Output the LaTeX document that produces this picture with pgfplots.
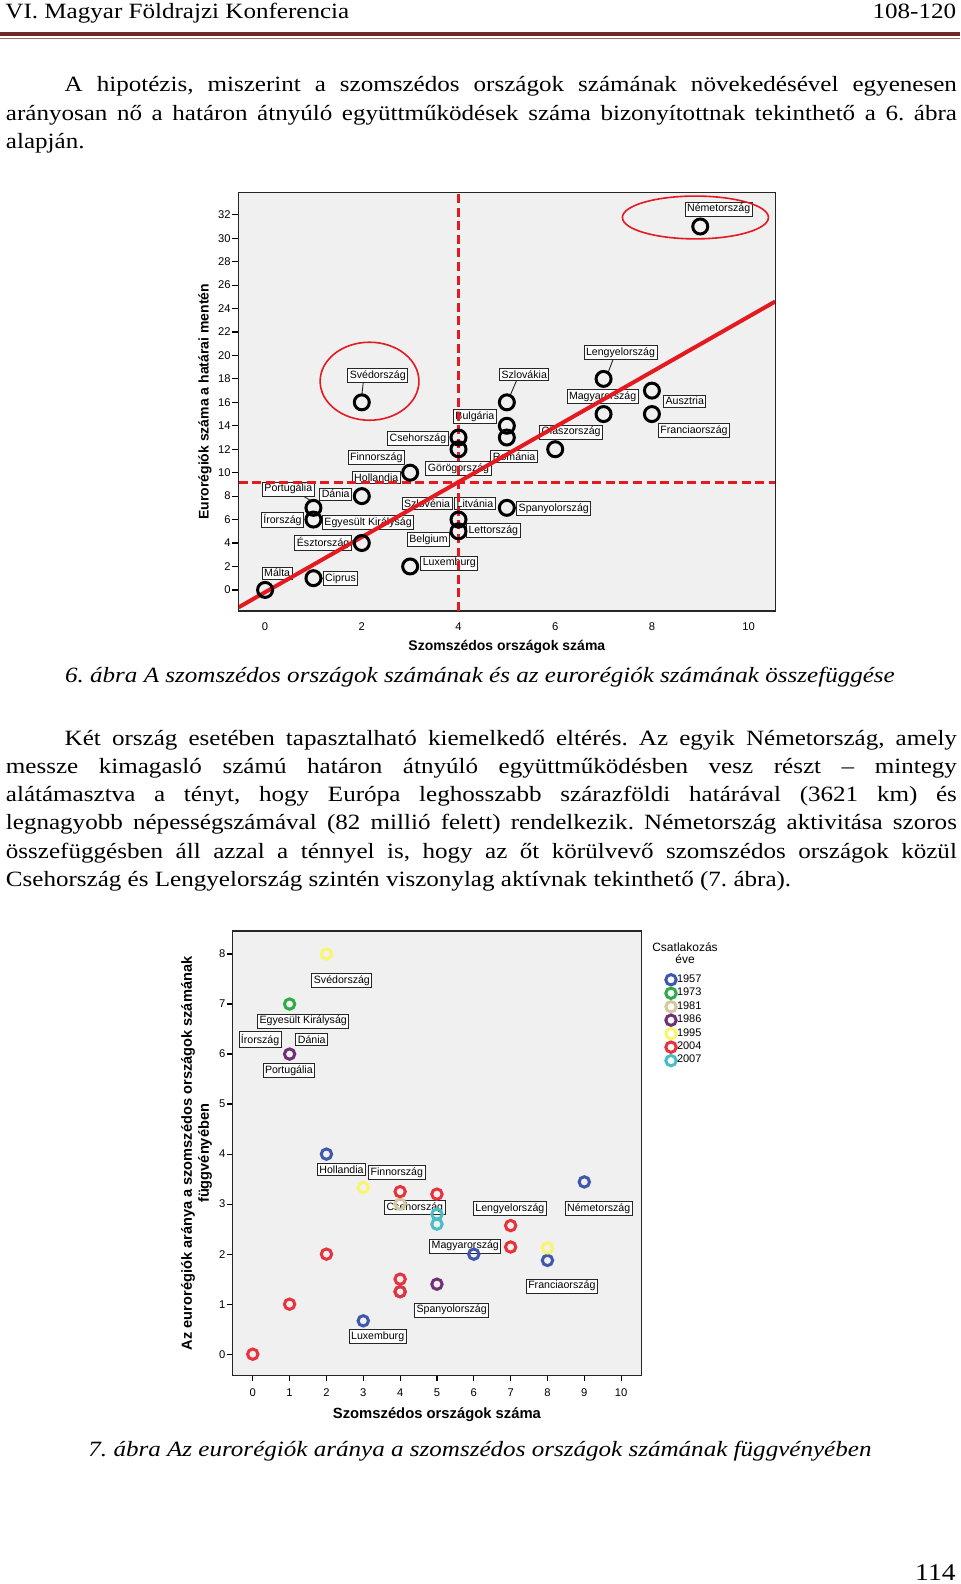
\documentclass[border=0pt]{standalone}
\usepackage{fontspec}
\setmainfont{Liberation Serif}[FakeStretch=1.15]
\setsansfont{Liberation Sans}
\usepackage{pgfplots}
\usepackage{pgfplotstable}
\pgfplotsset{compat=1.18}
\frenchspacing

\definecolor{chartbg}{RGB}{240,240,240}
\definecolor{regred}{RGB}{228,26,32}
\definecolor{maroon}{RGB}{110,40,40}
\definecolor{c1957}{RGB}{62,88,171}
\definecolor{c1973}{RGB}{46,172,72}
\definecolor{c1981}{RGB}{212,200,160}
\definecolor{c1986}{RGB}{112,48,120}
\definecolor{c1995}{RGB}{248,245,110}
\definecolor{c2004}{RGB}{232,50,60}
\definecolor{c2007}{RGB}{72,190,196}

% szomszedos orszagok szama, euroregiok szama
\pgfplotstableread{
x y
0 0
1 1
3 2
2 4
4 5
1 6
4 6
1 7
5 7
2 8
3 10
4 12
6 12
4 13
5 13
5 14
7 15
8 15
2 16
5 16
8 17
7 18
9 31
}\euroregiok

\newcommand\bodyfont{\rmfamily\fontsize{10.9}{14.15}\selectfont}
\tikzset{
  lbl/.style={draw=black!85, line width=0.45pt, fill=white, inner sep=1pt,
    font=\sffamily\fontsize{5.3}{6}\selectfont},
  ln/.style={anchor=base west, inner sep=0pt, font=\bodyfont},
}
\pgfplotsset{
  spss/.style={
    scale only axis,
    axis background/.style={fill=chartbg},
    axis line style={black!85, line width=0.6pt},
    tick pos=left, tick align=outside,
    major tick length=3.2pt,
    every tick/.style={black, line width=0.6pt},
    ticklabel style={font=\sffamily\fontsize{5.6}{6}\selectfont},
    yticklabel style={xshift=2.8pt},
    /pgf/number format/assume math mode=true,
  },
}

\begin{document}
\begin{tikzpicture}
\useasboundingbox (0,0) rectangle (480pt,-792pt);

% fejlec
\node[ln] at (2.5pt,-9.15pt) {VI. Magyar Földrajzi Konferencia};
\node[anchor=base east, inner sep=0pt, font=\bodyfont] at (478.25pt,-9.15pt) {108-120};
\fill[maroon] (0,-15.8pt) rectangle (480pt,-18.1pt);
\draw[maroon!70, line width=0.4pt] (0,-19.1pt) -- (480pt,-19.1pt);

% 1. bekezdes
\node[ln] at (32.15pt,-46pt) {\hbox to 446.1pt{A hipotézis, miszerint a szomszédos országok számának növekedésével egyenesen}};
\node[ln] at (2.75pt,-60.15pt) {\hbox to 475.5pt{arányosan nő a határon átnyúló együttműködések száma bizonyítottnak tekinthető a 6. ábra}};
\node[ln] at (2.75pt,-74.3pt) {alapján.};

% 6. abra
\begin{axis}[spss, name=ax1,
  at={(119.25pt,-305.5pt)}, anchor=south west,
  width=268.35pt, height=209.25pt,
  xmin=-0.55, xmax=10.55, ymin=-1.8, ymax=33.9,
  xtick={0,2,...,10}, ytick={0,2,...,32},
  xtick style={draw=none},
  xticklabel style={yshift=1pt},
  xlabel={Szomszédos országok száma},
  ylabel={Eurorégiók száma a határai mentén},
  xlabel style={at={(axis description cs:0.5,-0.086)}, anchor=center,
    font=\sffamily\bfseries\fontsize{7}{8}\selectfont},
  ylabel style={at={(axis description cs:-0.0624,0.5)}, anchor=center,
    font=\sffamily\bfseries\fontsize{7}{8}\selectfont},
]
\addplot[only marks, mark=o, mark size=3.75pt,
  mark options={line width=1.5pt, draw=black}] table[x=x, y=y] {\euroregiok};

\draw[black!85, line width=0.45pt] (axis cs:2.03,17.7) -- (axis cs:2.0,16.6);
\draw[black!85, line width=0.45pt] (axis cs:5.2,17.85) -- (axis cs:5.07,16.6);
\draw[black!85, line width=0.45pt] (axis cs:7.2,19.7) -- (axis cs:7.1,18.6);
\draw[black!85, line width=0.45pt] (axis cs:0.75,8.1) -- (axis cs:0.95,7.6);
\draw[black!85, line width=0.45pt] (axis cs:1.17,1) -- (axis cs:1.3,1);

\node[lbl] at (axis cs:2.33,18.29) {Svédország};
\node[lbl] at (axis cs:5.36,18.4) {Szlovákia};
\node[lbl] at (axis cs:4.34,14.81) {Bulgária};
\node[lbl] at (axis cs:3.16,12.91) {Csehország};
\node[lbl] at (axis cs:2.30,11.30) {Finnország};
\node[lbl] at (axis cs:4.0,10.36) {Görögország};
\node[lbl] at (axis cs:5.15,11.35) {Románia};
\node[lbl] at (axis cs:2.30,9.6) {Hollandia};
\node[lbl] at (axis cs:0.48,8.6) {Portugália};
\node[lbl] at (axis cs:1.46,8.18) {Dánia};
\node[lbl] at (axis cs:3.35,7.39) {Szlovénia};
\node[lbl] at (axis cs:4.34,7.39) {Litvánia};
\node[lbl] at (axis cs:5.97,6.93) {Spanyolország};
\node[lbl] at (axis cs:0.36,5.97) {Írország};
\node[lbl] at (axis cs:2.13,5.75) {Egyesült Királyság};
\node[lbl] at (axis cs:4.72,5.04) {Lettország};
\node[lbl] at (axis cs:3.38,4.27) {Belgium};
\node[lbl] at (axis cs:1.2,3.99) {Észtország};
\node[lbl] at (axis cs:3.81,2.29) {Luxemburg};
\node[lbl] at (axis cs:0.25,1.44) {Málta};
\node[lbl] at (axis cs:1.56,0.96) {Ciprus};
\node[lbl] at (axis cs:7.35,20.25) {Lengyelország};
\node[lbl] at (axis cs:6.98,16.5) {Magyarország};
\node[lbl] at (axis cs:8.68,16.1) {Ausztria};
\node[lbl] at (axis cs:8.87,13.6) {Franciaország};
\node[lbl] at (axis cs:6.33,13.46) {Olaszország};
\node[lbl] at (axis cs:9.38,32.48) {Németország};

\addplot[regred, line width=2pt] coordinates {(-0.55,-1.49) (10.55,24.6)};
\addplot[regred, line width=1.5pt, dash pattern=on 4.5pt off 2.3pt] coordinates {(4,-1.8) (4,33.9)};
\addplot[regred, line width=1.5pt, dash pattern=on 4.5pt off 2.3pt] coordinates {(-0.55,9.2) (10.55,9.2)};
\draw[regred, line width=0.8pt] (axis cs:8.9,31.77) ellipse [x radius=36.5pt, y radius=10.7pt];
\draw[regred, line width=0.8pt] (axis cs:2.16,17.8) ellipse [x radius=24.7pt, y radius=19.5pt];
\end{axis}

\node[anchor=base, inner sep=0pt, font=\bodyfont\itshape] at (240pt,-341pt)
  {6. ábra A szomszédos országok számának és az eurorégiók számának összefüggése};

% 2. bekezdes
\node[ln] at (32.15pt,-372.5pt) {\hbox to 446.1pt{Két ország esetében tapasztalható kiemelkedő eltérés. Az egyik Németország, amely}};
\node[ln] at (2.75pt,-386.65pt) {\hbox to 475.5pt{messze kimagasló számú határon átnyúló együttműködésben vesz részt – mintegy}};
\node[ln] at (2.75pt,-400.8pt) {\hbox to 475.5pt{alátámasztva a tényt, hogy Európa leghosszabb szárazföldi határával (3621 km) és}};
\node[ln] at (2.75pt,-414.95pt) {\hbox to 475.5pt{legnagyobb népességszámával (82 millió felett) rendelkezik. Németország aktivitása szoros}};
\node[ln] at (2.75pt,-429.1pt) {\hbox to 475.5pt{összefüggésben áll azzal a ténnyel is, hogy az őt körülvevő szomszédos országok közül}};
\node[ln] at (2.75pt,-443.25pt) {Csehország és Lengyelország szintén viszonylag aktívnak tekinthető (7. ábra).};

% 7. abra
\begin{axis}[spss, name=ax2,
  at={(116.25pt,-687.85pt)}, anchor=south west,
  width=204.45pt, height=222.35pt,
  xmin=-0.55, xmax=10.55, ymin=-0.43, ymax=8.46,
  xtick={0,1,...,10}, ytick={0,1,...,8},
  major tick length=2.8pt,
  xlabel={Szomszédos országok száma},
  ylabel={Az eurorégiók aránya a szomszédos országok számának\\függvényében},
  xlabel style={at={(axis description cs:0.5,-0.0884)}, anchor=center,
    font=\sffamily\bfseries\fontsize{7.4}{8}\selectfont},
  ylabel style={at={(axis description cs:-0.088,0.5)}, anchor=center, align=center,
    font=\sffamily\bfseries\fontsize{7.3}{8.5}\selectfont},
  legend image code/.code={\draw[#1] plot coordinates {(0pt,0pt)};},
  legend cell align=left,
  legend style={at={(rel axis cs:1,1)}, anchor=north west, xshift=12pt, yshift=-21.1pt,
    draw=none, fill=none, inner sep=0pt, row sep=0.6pt,
    font=\sffamily\fontsize{5.5}{6}\selectfont,
    nodes={inner sep=0.4pt}},
  every axis plot/.append style={only marks, mark=o, mark size=2.6pt},
]
\addplot[mark options={line width=1.5pt, draw=c1957}] coordinates
  {(2,4) (3,0.667) (4,1.25) (6,2) (8,1.875) (9,3.444)};
\addlegendentry{1957}
\addplot[mark options={line width=1.5pt, draw=c1973}] coordinates {(1,7)};
\addlegendentry{1973}
\addplot[mark options={line width=1.5pt, draw=c1981}] coordinates {(4,3)};
\addlegendentry{1981}
\addplot[mark options={line width=1.5pt, draw=c1986}] coordinates {(1,6) (5,1.4)};
\addlegendentry{1986}
\addplot[mark options={line width=1.5pt, draw=c1995}] coordinates {(2,8) (3,3.333) (8,2.125)};
\addlegendentry{1995}
\addplot[mark options={line width=1.5pt, draw=c2004}] coordinates
  {(0,0) (1,1) (2,2) (4,3.25) (4,1.5) (4,1.25) (5,3.2) (7,2.571) (7,2.143)};
\addlegendentry{2004}
\addplot[mark options={line width=1.5pt, draw=c2007}] coordinates {(5,2.8) (5,2.6)};
\addlegendentry{2007}

\node[lbl] at (axis cs:2.42,7.47) {Svédország};
\node[lbl] at (axis cs:1.37,6.66) {Egyesült Királyság};
\node[lbl] at (axis cs:0.2,6.29) {Írország};
\node[lbl] at (axis cs:1.6,6.29) {Dánia};
\node[lbl] at (axis cs:0.98,5.67) {Portugália};
\node[lbl] at (axis cs:2.41,3.69) {Hollandia};
\node[lbl] at (axis cs:3.91,3.63) {Finnország};
\node[lbl] at (axis cs:4.40,2.93) {Csehország};
\node[lbl] at (axis cs:6.98,2.91) {Lengyelország};
\node[lbl] at (axis cs:9.39,2.91) {Németország};
\node[lbl] at (axis cs:5.77,2.16) {Magyarország};
\node[lbl] at (axis cs:8.39,1.36) {Franciaország};
\node[lbl] at (axis cs:5.40,0.88) {Spanyolország};
\node[lbl] at (axis cs:3.39,0.35) {Luxemburg};
\end{axis}
\node[align=center, inner sep=0pt, font=\sffamily\fontsize{6}{6}\selectfont]
  at ([xshift=21.8pt, yshift=-11pt]ax2.north east) {Csatlakozás\\éve};

\node[anchor=base, inner sep=0pt, font=\bodyfont\itshape] at (240pt,-728pt)
  {7. ábra Az eurorégiók aránya a szomszédos országok számának függvényében};

\node[anchor=base east, inner sep=0pt, font=\rmfamily\fontsize{12}{14}\selectfont] at (478pt,-790pt) {114};
\end{tikzpicture}
\end{document}
